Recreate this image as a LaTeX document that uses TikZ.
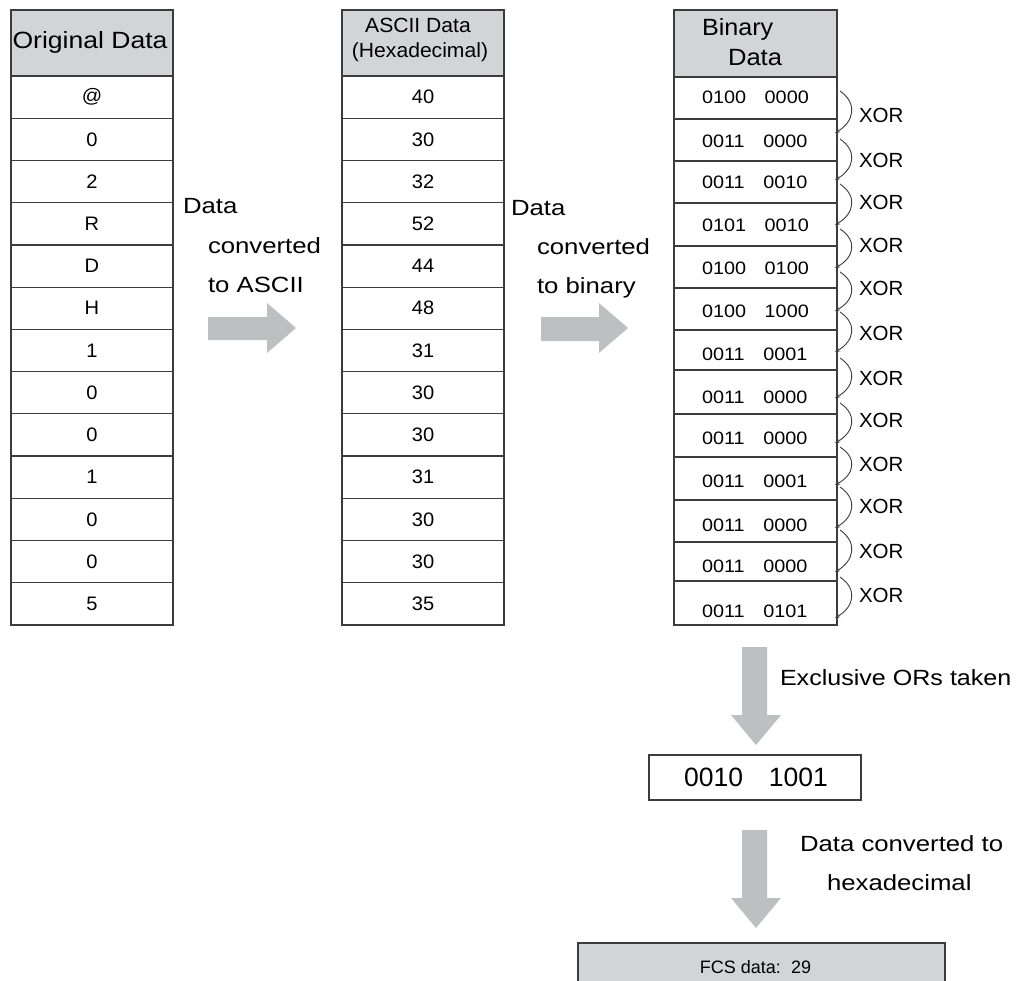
\documentclass[tikz,border=0pt]{standalone}
\usepackage{fontspec}
\setmainfont{Liberation Sans}
\usepackage{graphicx}
\usetikzlibrary{arrows.meta}
\definecolor{hdr}{RGB}{211,212,214}
\definecolor{arw}{RGB}{190,191,193}
\definecolor{ln}{RGB}{60,60,60}
\newcommand{\fs}[3]{\fontsize{#1}{#1}\selectfont\scalebox{#2}[1]{#3}}
\begin{document}
\begin{tikzpicture}[x=1pt,y=-1pt,
  cell/.style={draw=ln, line width=1.2pt, inner sep=0pt, outer sep=0pt},
  txt/.style={inner sep=0pt, outer sep=0pt, text=black},
  xorarrow/.style={draw=ln, line width=0.9pt, -{Stealth[length=5pt,width=4pt]}},
  blockarrow/.style={fill=arw, draw=none}]
\useasboundingbox (0,0) rectangle (1027,980);

% ---- headers ----
\node[cell, fill=hdr, minimum width=162pt, minimum height=66pt] (oh) at (92,43) {};
\node[cell, fill=hdr, minimum width=162pt, minimum height=66pt] (ah) at (423,43) {};
\node[cell, fill=hdr, minimum width=163pt, minimum height=67pt] (bh) at (755.5,43.5) {};
\node[txt, anchor=base] (ohT) at (90,48) {\fs{23.5}{1.13}{Original Data}};
\node[txt, anchor=base] (ahT1) at (418,32) {\fs{20.5}{1.03}{ASCII Data}};
\node[txt, anchor=base] (ahT2) at (420,57) {\fs{20.5}{1.03}{(Hexadecimal)}};
\node[txt, anchor=base west] (bhT1) at (702,35) {\fs{23.5}{1.07}{Binary}};
\node[txt, anchor=base west] (bhT2) at (728,65) {\fs{23.5}{1.09}{Data}};

% ---- original data column ----
\foreach \t [count=\i] in {@,0,2,R,D,H,1,0,0,1,0,0,5} {
  \node[cell, minimum width=162pt, minimum height=42.23pt] (o\i) at (92,{76+42.23*(\i-0.5)}) {\fs{19.5}{1.03}{\t}};
}
% ---- ASCII column ----
\foreach \t [count=\i] in {40,30,32,52,44,48,31,30,30,31,30,30,35} {
  \node[cell, minimum width=162pt, minimum height=42.23pt] (a\i) at (423,{76+42.23*(\i-0.5)}) {\fs{19.5}{1.03}{\t}};
}
% ---- binary column ----
\foreach \ta/\tb/\bl/\hi/\lo [count=\i] in {
  77/119/103/0100/0000, 119/161/147/0011/0000, 161/203/188/0011/0010,
  203/246/231/0101/0010, 246/288/274/0100/0100, 288/330/317/0100/1000,
  330/370/360/0011/0001, 370/414/403/0011/0000, 414/457/444/0011/0000,
  457/500/487/0011/0001, 500/542/531/0011/0000, 542/581/572/0011/0000,
  581/625/617/0011/0101} {
  \node[cell, minimum width=163pt, minimum height={(\tb-\ta)*1pt}] (b\i) at (755.5,{(\ta+\tb)/2}) {};
  \node[txt, anchor=base west] (bt\i) at (702,\bl) {\fs{18}{1.1}{\hi\hspace{17pt}\lo}};
}
% ---- XOR arcs ----
\foreach \s/\e/\xb [count=\i] in {
  91/133/122, 139/180/167, 184/225/209, 229/268/252, 272/311/295, 312/352/340,
  358/398/385, 403/443/427, 447/485/471, 487/528/513, 530/572/558, 577/618/602} {
  \coordinate (xs\i) at (840,\s);
  \coordinate (xe\i) at (835,\e);
  \draw[xorarrow] (xs\i) .. controls (858,{\s+0.3*(\e-\s)}) and (854,{\e-0.27*(\e-\s)}) .. (xe\i);
  \node[txt, anchor=base west] (xl\i) at (859,\xb) {\fs{20.5}{1}{XOR}};
}

% ---- right block arrows ----
\fill[blockarrow] (208,317) -- (267,317) -- (267,303) -- (296,328) -- (267,353) -- (267,340) -- (208,340) -- cycle;
\fill[blockarrow] (541,317) -- (599,317) -- (599,303) -- (628,328) -- (599,353) -- (599,341) -- (541,341) -- cycle;
\node[txt, anchor=base west] (l1a) at (183,213) {\fs{22}{1.17}{Data}};
\node[txt, anchor=base west] (l1b) at (208,253) {\fs{22}{1.17}{converted}};
\node[txt, anchor=base west] (l1c) at (208,292) {\fs{22}{1.17}{to ASCII}};
\node[txt, anchor=base west] (l2a) at (511,215) {\fs{22}{1.17}{Data}};
\node[txt, anchor=base west] (l2b) at (537,254) {\fs{22}{1.17}{converted}};
\node[txt, anchor=base west] (l2c) at (537,293) {\fs{22}{1.17}{to binary}};

% ---- down block arrows ----
\fill[blockarrow] (742,647) -- (767,647) -- (767,715) -- (781,715) -- (756,745) -- (731,715) -- (742,715) -- cycle;
\fill[blockarrow] (742,830) -- (767,830) -- (767,898) -- (781,898) -- (756,928) -- (731,898) -- (742,898) -- cycle;
\node[txt, anchor=base west] (l3) at (780,685) {\fs{22}{1.14}{Exclusive ORs taken}};
\node[txt, anchor=base west] (l4a) at (800,851) {\fs{22}{1.17}{Data converted to}};
\node[txt, anchor=base west] (l4b) at (827,890) {\fs{22}{1.17}{hexadecimal}};

% ---- result boxes ----
\node[cell, minimum width=212pt, minimum height=45pt] (res) at (755,777.5) {};
\node[txt, anchor=base] (resT) at (756,786) {\fs{26.5}{1}{0010\hspace{26pt}1001}};
\node[cell, fill=hdr, minimum width=367pt, minimum height=60pt] (fcs) at (761.5,973) {};
\node[txt, anchor=base] (fcsT) at (755.5,973) {\fs{18}{1}{FCS data:\ \ 29}};
\end{tikzpicture}
\end{document}
